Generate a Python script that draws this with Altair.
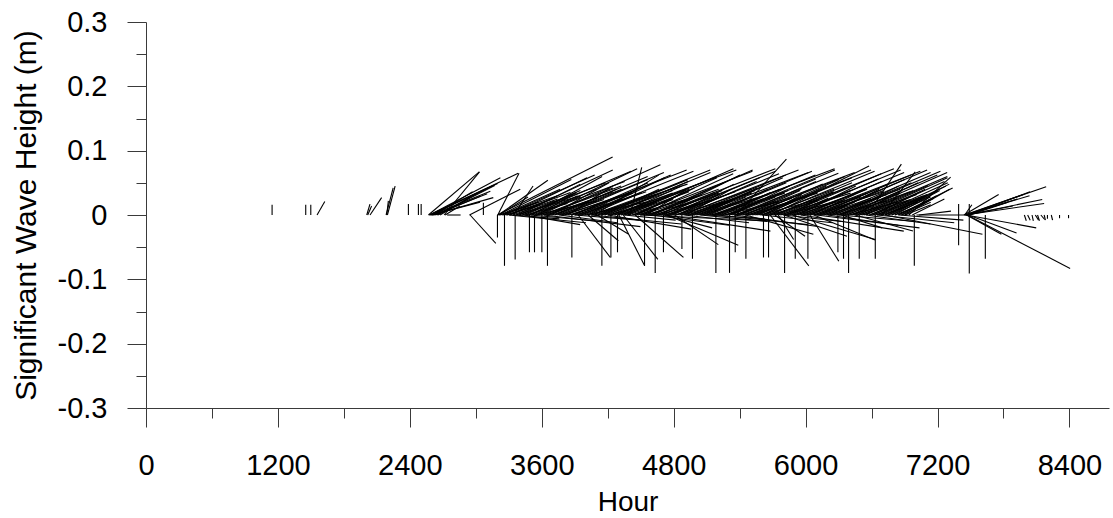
import altair as alt
import pandas as pd

# Stick plot of significant wave height: each stick starts on the zero line at its
# hour and points along the wave direction; its vertical reach is the north
# component (m) and its horizontal reach the east component (m), drawn at the
# same metres-per-pixel scale as the y axis.

# (hour, east m, north m)
EARLY_STICKS = [
    (1147, 0.0, 0.016), (1453, 0.0, 0.016), (1499, 0.0, 0.016), (1556, 0.012, 0.021),
    (2008, 0.005, 0.017), (2017, 0.006, 0.014), (2038, 0.018, 0.027),
    (2184, 0.011, 0.042), (2190, 0.0025, 0.022), (2196, 0.012, 0.045),
    (2387, 0.0, 0.017), (2478, 0.0, 0.017), (2503, 0.0, 0.017),
]

FIRST_FAN = [
    (2569, 0.079, 0.067), (2575, 0.098, 0.045), (2584, 0.137, 0.065), (2590, 0.104, 0.049),
    (2594, 0.092, 0.037), (2603, 0.095, 0.027), (2612, 0.084, 0.033), (2630, 0.070, 0.029),
    (2657, 0.073, 0.040), (2675, 0.047, 0.028), (2712, 0.055, 0.067), (2721, 0.023, 0.014),
    (2739, 0.021, 0.000), (2942, 0.079, 0.040), (2948, 0.040, -0.044), (3069, 0.0, 0.019),
    (2580, 0.110, 0.058), (2600, 0.075, 0.020), (2620, 0.060, 0.036), (2645, 0.090, 0.046),
]

MAIN_UP = [
    (3197, 0.179, 0.090), (3200, 0.033, 0.065), (3205, 0.077, 0.054), (3212, 0.045, 0.028),
    (3225, 0.110, 0.055), (3240, 0.090, 0.040), (3262, 0.140, 0.062), (3285, 0.070, 0.025),
    (3310, 0.120, 0.058), (3345, 0.030, 0.045), (3368, 0.150, 0.070), (3395, 0.095, 0.048),
    (3420, 0.130, 0.050), (3448, 0.080, 0.035), (3476, 0.160, 0.068), (3505, 0.110, 0.060),
    (3535, 0.140, 0.052), (3562, 0.060, 0.035), (3590, 0.150, 0.072), (3620, 0.120, 0.045),
    (3655, 0.175, 0.078), (3685, 0.090, 0.050), (3715, 0.145, 0.060), (3742, 0.100, 0.040),
    (3775, 0.160, 0.066), (3805, 0.130, 0.055), (3835, 0.070, 0.045), (3865, 0.180, 0.070),
    (3895, 0.115, 0.050), (3925, 0.145, 0.062), (3955, 0.095, 0.035), (3985, 0.170, 0.068),
    (4015, 0.120, 0.058), (4048, 0.150, 0.048), (4078, 0.100, 0.062), (4108, 0.175, 0.070),
    (4138, 0.135, 0.055), (4168, 0.085, 0.040), (4198, 0.160, 0.066), (4228, 0.120, 0.052),
    (4258, 0.190, 0.070), (4288, 0.100, 0.045), (4318, 0.150, 0.060), (4348, 0.070, 0.030),
    (4378, 0.165, 0.072), (4404, 0.018, 0.074), (4432, 0.130, 0.058), (4462, 0.090, 0.042),
    (4492, 0.175, 0.068), (4522, 0.140, 0.064), (4552, 0.060, 0.038), (4582, 0.160, 0.070),
    (4612, 0.110, 0.050), (4642, 0.185, 0.072), (4672, 0.125, 0.062), (4702, 0.080, 0.035),
    (4732, 0.170, 0.068), (4762, 0.140, 0.058), (4792, 0.095, 0.048), (4822, 0.160, 0.064),
    (4852, 0.120, 0.052), (4882, 0.180, 0.070), (4912, 0.070, 0.040), (4942, 0.150, 0.062),
    (4972, 0.110, 0.045), (5002, 0.175, 0.066), (5032, 0.130, 0.058), (5062, 0.085, 0.042),
    (5092, 0.165, 0.068), (5122, 0.120, 0.050), (5152, 0.190, 0.072), (5182, 0.100, 0.040),
    (5212, 0.150, 0.062), (5242, 0.075, 0.035), (5272, 0.170, 0.070), (5302, 0.135, 0.056),
    (5332, 0.090, 0.046), (5362, 0.160, 0.065), (5369, 0.078, 0.087), (5392, 0.120, 0.052),
    (5422, 0.175, 0.066), (5452, 0.085, 0.038), (5482, 0.150, 0.060), (5512, 0.110, 0.048),
    (5542, 0.180, 0.070), (5572, 0.125, 0.055), (5602, 0.140, 0.058), (5632, 0.095, 0.045),
    (5662, 0.165, 0.068), (5688, 0.152, 0.076), (5720, 0.120, 0.050), (5750, 0.180, 0.072),
    (5780, 0.100, 0.042), (5810, 0.150, 0.064), (5840, 0.070, 0.036), (5870, 0.170, 0.070),
    (5900, 0.130, 0.056), (5930, 0.090, 0.045), (5960, 0.160, 0.066), (5990, 0.120, 0.052),
    (6020, 0.175, 0.068), (6050, 0.085, 0.040), (6080, 0.150, 0.062), (6110, 0.110, 0.048),
    (6140, 0.165, 0.070), (6170, 0.125, 0.055), (6200, 0.080, 0.040), (6230, 0.155, 0.066),
    (6260, 0.120, 0.050), (6290, 0.160, 0.068), (6320, 0.090, 0.045), (6350, 0.145, 0.062),
    (6380, 0.110, 0.050), (6410, 0.150, 0.066), (6440, 0.075, 0.038), (6470, 0.140, 0.060),
    (6500, 0.105, 0.046), (6530, 0.130, 0.058), (6561, 0.053, 0.079), (6590, 0.115, 0.052),
    (6620, 0.080, 0.040), (6650, 0.110, 0.050), (6680, 0.089, 0.037), (6693, 0.052, 0.067),
    (6720, 0.095, 0.045), (6750, 0.060, 0.030), (6780, 0.090, 0.048), (6810, 0.070, 0.038),
    (6840, 0.085, 0.042), (6870, 0.055, 0.030), (6900, 0.070, 0.040), (6939, 0.065, 0.059),
    (6970, 0.050, 0.025), (7009, 0.075, 0.000), (7030, 0.050, 0.006),
]

# Lighter seas that fill the body of the record close to the zero line
MAIN_SHORT = [
    (3215, 0.060, 0.020), (3245, 0.085, 0.030), (3275, 0.050, 0.015), (3305, 0.095, 0.035),
    (3335, 0.070, 0.025), (3365, 0.100, 0.030), (3395, 0.055, 0.022), (3425, 0.090, 0.038),
    (3455, 0.065, 0.018), (3485, 0.105, 0.040), (3515, 0.075, 0.028), (3545, 0.095, 0.022),
    (3575, 0.060, 0.030), (3605, 0.110, 0.042), (3635, 0.080, 0.026), (3665, 0.100, 0.036),
    (3695, 0.055, 0.020), (3725, 0.095, 0.040), (3755, 0.070, 0.024), (3785, 0.110, 0.034),
    (3815, 0.085, 0.030), (3845, 0.060, 0.018), (3875, 0.100, 0.038), (3905, 0.075, 0.025),
    (3935, 0.105, 0.036), (3965, 0.065, 0.028), (3995, 0.095, 0.020), (4025, 0.080, 0.034),
    (4055, 0.110, 0.040), (4085, 0.060, 0.022), (4115, 0.090, 0.032), (4145, 0.075, 0.026),
    (4175, 0.105, 0.038), (4205, 0.065, 0.018), (4235, 0.095, 0.034), (4265, 0.080, 0.028),
    (4295, 0.110, 0.040), (4325, 0.055, 0.020), (4355, 0.100, 0.036), (4385, 0.070, 0.024),
    (4415, 0.105, 0.030), (4445, 0.085, 0.038), (4475, 0.060, 0.022), (4505, 0.095, 0.032),
    (4535, 0.075, 0.020), (4565, 0.110, 0.040), (4595, 0.065, 0.026), (4625, 0.100, 0.034),
    (4655, 0.080, 0.022), (4685, 0.095, 0.038), (4715, 0.060, 0.018), (4745, 0.105, 0.036),
    (4775, 0.075, 0.028), (4805, 0.090, 0.024), (4835, 0.065, 0.032), (4865, 0.110, 0.040),
    (4895, 0.080, 0.026), (4925, 0.100, 0.034), (4955, 0.060, 0.020), (4985, 0.095, 0.038),
    (5015, 0.075, 0.024), (5045, 0.105, 0.032), (5075, 0.065, 0.028), (5105, 0.095, 0.040),
    (5135, 0.080, 0.022), (5165, 0.110, 0.036), (5195, 0.060, 0.026), (5225, 0.100, 0.034),
    (5255, 0.085, 0.020), (5285, 0.095, 0.038), (5315, 0.070, 0.028), (5345, 0.105, 0.032),
    (5375, 0.060, 0.022), (5405, 0.095, 0.040), (5435, 0.075, 0.026), (5465, 0.110, 0.034),
    (5495, 0.065, 0.020), (5525, 0.100, 0.036), (5555, 0.080, 0.030), (5585, 0.090, 0.024),
    (5615, 0.060, 0.032), (5645, 0.105, 0.040), (5675, 0.075, 0.022), (5705, 0.095, 0.036),
    (5735, 0.065, 0.028), (5765, 0.110, 0.034), (5795, 0.080, 0.020), (5825, 0.100, 0.038),
    (5855, 0.060, 0.026), (5885, 0.095, 0.032), (5915, 0.075, 0.024), (5945, 0.105, 0.040),
    (5975, 0.065, 0.022), (6005, 0.095, 0.034), (6035, 0.080, 0.028), (6065, 0.110, 0.036),
    (6095, 0.060, 0.020), (6125, 0.100, 0.038), (6155, 0.075, 0.026), (6185, 0.095, 0.032),
    (6215, 0.065, 0.024), (6245, 0.105, 0.040), (6275, 0.080, 0.022), (6305, 0.095, 0.034),
    (6335, 0.060, 0.028), (6365, 0.100, 0.036), (6395, 0.075, 0.020), (6425, 0.095, 0.038),
    (6455, 0.065, 0.026), (6485, 0.090, 0.032), (6515, 0.075, 0.024), (6545, 0.085, 0.036),
    (6575, 0.060, 0.022), (6605, 0.080, 0.030), (6635, 0.070, 0.026), (6665, 0.075, 0.032),
    (6695, 0.055, 0.020), (6725, 0.070, 0.030), (6755, 0.050, 0.024), (6785, 0.060, 0.028),
    (6815, 0.045, 0.018), (6845, 0.055, 0.026), (6875, 0.045, 0.020), (6905, 0.040, 0.016),
]

# Purely north/south sticks (no east component)
VERTICAL_HOURS = [
    3197, 3261, 3358, 3488, 3534, 3601, 3652, 3874, 4147, 4229, 4289, 4535,
    4632, 4707, 4875, 4971, 5184, 5308, 5360, 5457, 5617, 5663, 5809, 5906,
    6021, 6294, 6345, 6391, 6488, 6634, 6989, 7392, 7392, 7489, 7489, 7635,
]
VERTICAL_NORTH = [
    -0.035, -0.079, -0.069, -0.058, -0.058, -0.058, -0.079, -0.066, -0.079, -0.066, -0.058, -0.079,
    -0.090, -0.058, -0.053, -0.068, -0.090, -0.090, -0.058, -0.068, -0.066, -0.066, -0.090, -0.068,
    -0.068, -0.058, -0.068, -0.090, -0.068, -0.068, -0.079, -0.047, 0.017, -0.091, 0.017, -0.068,
]

DOWN_STICKS = [
    (3931, 0.050, -0.066), (4022, 0.047, -0.040), (4104, 0.049, -0.030), (4302, 0.040, -0.079),
    (4340, 0.054, -0.069), (4450, 0.075, -0.066), (4732, 0.162, -0.025), (4738, 0.111, -0.047),
    (4808, 0.068, -0.046), (5041, 0.104, -0.010), (5678, 0.060, -0.079), (5720, 0.047, -0.033),
    (5751, 0.024, -0.038), (5803, 0.098, -0.033), (5879, 0.129, -0.038), (6039, 0.045, -0.072),
    (6725, 0.151, -0.030), (3300, 0.120, -0.012), (3440, 0.087, -0.015), (3620, 0.150, -0.018),
    (3900, 0.100, -0.008), (4200, 0.130, -0.022), (4495, 0.195, -0.009), (4711, 0.075, -0.020),
    (5200, 0.140, -0.015), (5456, 0.105, -0.030), (5600, 0.110, -0.012), (5957, 0.160, -0.025),
    (6075, 0.095, -0.039), (6100, 0.160, -0.020), (6300, 0.120, -0.010), (6328, 0.063, -0.020),
    (6450, 0.090, -0.025), (6550, 0.100, -0.014), (3350, 0.070, -0.006), (3500, 0.110, -0.010),
    (3760, 0.090, -0.012), (4050, 0.140, -0.014), (4350, 0.080, -0.008), (4600, 0.120, -0.016),
    (4900, 0.100, -0.012), (5100, 0.090, -0.006), (5350, 0.130, -0.018), (5800, 0.090, -0.010),
    (6200, 0.110, -0.016), (6650, 0.120, -0.012), (6850, 0.100, -0.008),
]

LAST_FAN = [
    (7440, 0.054, 0.032), (7445, 0.127, 0.044), (7448, 0.011, 0.016), (7450, 0.123, 0.018),
    (7452, 0.100, 0.030), (7455, 0.090, 0.032), (7458, 0.080, 0.025), (7460, 0.109, -0.020),
    (7462, 0.118, 0.024), (7465, 0.054, -0.030), (7470, 0.160, -0.083), (7475, 0.070, 0.014),
    (7480, 0.075, -0.028), (7485, 0.095, 0.036), (7490, 0.060, 0.020),
]

TAIL_STICKS = [
    (7990, 0.003, -0.009), (8020, 0.004, -0.008), (8060, 0.002, -0.009), (8090, 0.005, -0.008),
    (8110, 0.003, -0.009), (8140, 0.006, -0.007), (8170, 0.002, -0.008), (8200, 0.0, -0.006),
    (8235, 0.002, -0.008), (8310, 0.0, -0.005), (8392, 0.0, -0.005),
]

X_TICKS = [0, 600, 1200, 1800, 2400, 3000, 3600, 4200, 4800, 5400, 6000, 6600, 7200, 7800, 8400]
Y_TICKS = [-0.3, -0.25, -0.2, -0.15, -0.1, -0.05, 0, 0.05, 0.1, 0.15, 0.2, 0.25, 0.3]

X_MIN, X_MAX = 0, 8760
Y_MIN, Y_MAX = -0.3, 0.3
PLOT_W, PLOT_H = 963, 386

# hours of x-axis that span the same screen length as one metre on the y axis
HOURS_PER_M = (PLOT_H / (Y_MAX - Y_MIN)) / (PLOT_W / (X_MAX - X_MIN))

rows = EARLY_STICKS + FIRST_FAN + MAIN_UP + MAIN_SHORT + DOWN_STICKS + LAST_FAN + TAIL_STICKS
rows += [(h, 0.0, n) for h, n in zip(VERTICAL_HOURS, VERTICAL_NORTH)]
df = pd.DataFrame(rows, columns=["hour", "east", "north"])
df["base"] = 0.0
df["hour_end"] = df["hour"] + df["east"] * HOURS_PER_M

FONT = "Liberation Sans"
AXIS_COLOR = "#3a3a3a"

x_axis = alt.Axis(
    values=X_TICKS,
    title="Hour",
    grid=False,
    labelExpr="datum.value % 1200 === 0 ? datum.label : ''",
    format="d",
    tickSize={"condition": {"test": "datum.value % 1200 === 0", "value": 19}, "value": 10},
    labelPadding=24,
    titlePadding=8,
    labelFont=FONT, titleFont=FONT,
    labelFontSize=29, titleFontSize=28,
    titleFontWeight="normal",
    labelColor="black", titleColor="black",
    domainColor=AXIS_COLOR, tickColor=AXIS_COLOR,
    labelOverlap=False, labelFlush=False,
)

y_axis = alt.Axis(
    values=Y_TICKS,
    title="Significant Wave Height (m)",
    grid=False,
    labelExpr="abs(round(datum.value * 20)) % 2 === 0 ? replace(datum.label, '\u2212', '-') : ''",
    format=".1~f",
    tickSize={"condition": {"test": "abs(round(datum.value * 20)) % 2 === 0", "value": 19}, "value": 10},
    labelPadding=20,
    titlePadding=16,
    labelFont=FONT, titleFont=FONT,
    labelFontSize=29, titleFontSize=30,
    titleFontWeight="normal",
    labelColor="black", titleColor="black",
    domainColor=AXIS_COLOR, tickColor=AXIS_COLOR,
    labelOverlap=False, labelFlush=False,
)

chart = (
    alt.Chart(df)
    .mark_rule(color="black", strokeWidth=1.1)
    .encode(
        x=alt.X("hour:Q", scale=alt.Scale(domain=[X_MIN, X_MAX], nice=False, zero=False), axis=x_axis),
        x2="hour_end:Q",
        y=alt.Y("base:Q", scale=alt.Scale(domain=[Y_MIN, Y_MAX], nice=False, zero=False), axis=y_axis),
        y2="north:Q",
    )
    .properties(
        width=PLOT_W,
        height=PLOT_H,
        autosize="none",
        padding={"left": 146, "top": 22, "right": 4, "bottom": 110},
        background="white",
    )
    .configure_view(stroke=None)
)

chart.save("out.html", embed_options={"renderer": "svg", "actions": False})
